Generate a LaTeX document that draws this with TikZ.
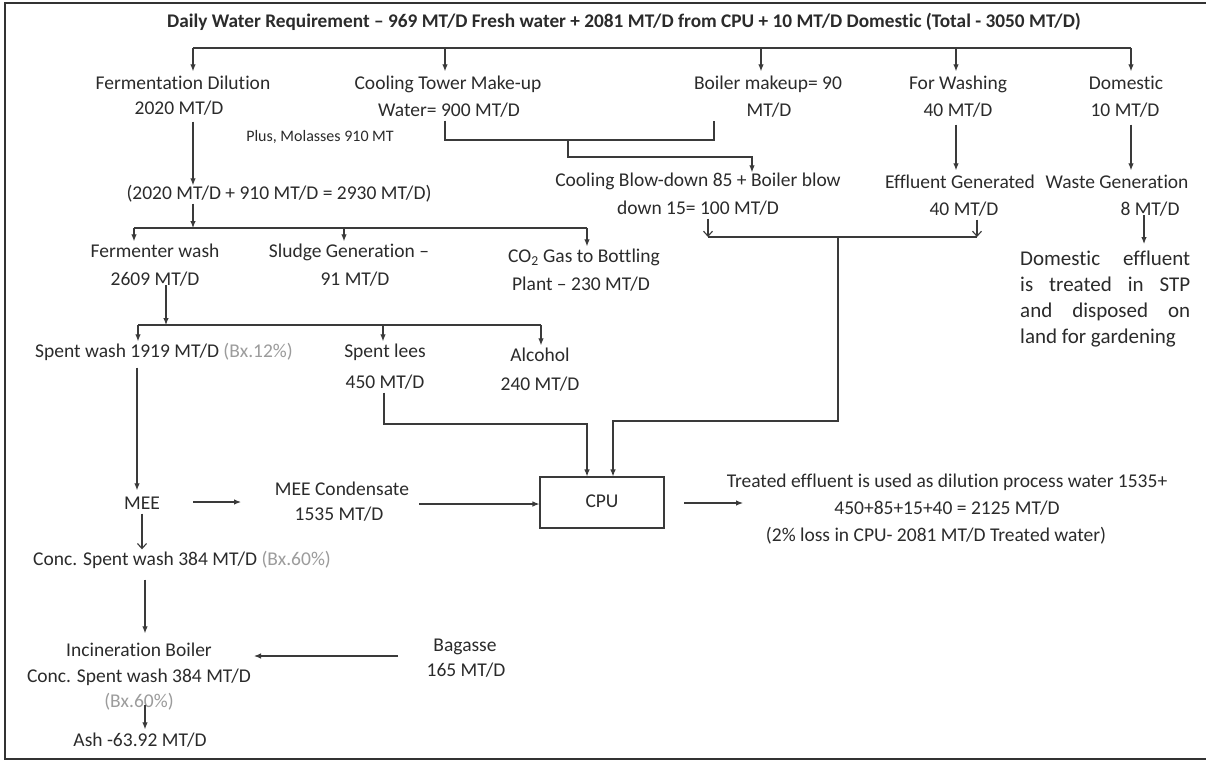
\documentclass[tikz,border=0pt]{standalone}
\usepackage{fontspec}
\setmainfont{Carlito}[Ligatures={TeX,NoCommon}]
\usetikzlibrary{arrows.meta}
\definecolor{txtc}{HTML}{2B2B2B}
\definecolor{lnc}{HTML}{3A3A3A}
\definecolor{grc}{HTML}{9C9C9C}
\newcommand\fsz{\fontsize{19.5}{23}\selectfont}
\newcommand\fsm{\fontsize{16}{20}\selectfont}
\newcommand\fsb{\fontsize{21}{26}\selectfont}
\newcommand\fst{\fontsize{19.3}{23}\selectfont\bfseries}
\begin{document}
\begin{tikzpicture}[x=1pt,y=-1pt,
  t/.style={font=\fsz,inner sep=0pt,text height=13pt,text depth=4pt,text=txtc},
  ln/.style={draw=lnc,line width=1.1pt},
  arr/.style={ln,-{Latex[length=7pt,width=5.5pt]}},
  oarr/.style={ln,-{Straight Barb[length=5pt,width=9pt]}},
  frm/.style={draw=black!80,line width=1.6pt}]
\useasboundingbox (0,0) rectangle (1206,763);
\fill[white] (0,0) rectangle (1206,763);
\coordinate (f1) at (1206,3); \coordinate (f2) at (5,3);
\coordinate (f3) at (5,759); \coordinate (f4) at (1206,759);
\draw[frm] (f1) -- (f2) -- (f3) -- (f4);

% ---------- text nodes ----------
\node[t,font=\fst] (title) at (624,23) {Daily Water Requirement – 969 MT/D Fresh water + 2081 MT/D from CPU + 10 MT/D Domestic (Total - 3050 MT/D)};
\node[t] (fd1) at (183,85) {Fermentation Dilution};
\node[t] (fd2) at (179,110) {2020 MT/D};
\node[t] (ct1) at (448,85) {Cooling Tower Make-up};
\node[t] (ct2) at (449,112) {Water= 900 MT/D};
\node[t] (bm1) at (768,85) {Boiler makeup= 90};
\node[t] (bm2) at (769,112) {MT/D};
\node[t] (fw1) at (958,85) {For Washing};
\node[t] (fw2) at (958,112) {40 MT/D};
\node[t] (dm1) at (1126,85) {Domestic};
\node[t] (dm2) at (1125,112) {10 MT/D};
\node[t,font=\fsm] (mol) at (320,137) {Plus, Molasses 910 MT};
\node[t] (sum) at (279,195) {(2020 MT/D + 910 MT/D = 2930 MT/D)};
\node[t] (cb1) at (698,182) {Cooling Blow-down 85 + Boiler blow};
\node[t] (cb2) at (698,210) {down 15= 100 MT/D};
\node[t] (eg1) at (960,184) {Effluent Generated};
\node[t] (eg2) at (964,211) {40 MT/D};
\node[t] (wg1) at (1117,184) {Waste Generation};
\node[t] (wg2) at (1150,211) {8 MT/D};
\node[font=\fsb,inner sep=0pt,align=left,anchor=north west,text=txtc] (de) at (1020,251)
  {\makebox[170pt][s]{Domestic effluent}\\ \makebox[170pt][s]{is treated in STP}\\ \makebox[170pt][s]{and disposed on}\\ land for gardening};
\node[t] (fm1) at (155,253) {Fermenter wash};
\node[t] (fm2) at (155,281) {2609 MT/D};
\node[t] (sg1) at (349,253) {Sludge Generation –};
\node[t] (sg2) at (355,281) {91 MT/D};
\node[t] (co1) at (584,258) {CO\textsubscript{2} Gas to Bottling};
\node[t] (co2) at (581,286) {Plant – 230 MT/D};
\node[t] (sw) at (164,353) {Spent wash 1919 MT/D {\color{grc}(Bx.12\%)}};
\node[t] (sl1) at (385,353) {Spent lees};
\node[t] (sl2) at (385,384) {450 MT/D};
\node[t] (al1) at (540,357) {Alcohol};
\node[t] (al2) at (540,386) {240 MT/D};
\node[t] (mee) at (142,505) {MEE};
\node[t] (mc1) at (342,491) {MEE Condensate};
\node[t] (mc2) at (339,516) {1535 MT/D};
\node[t,draw=lnc,line width=1.1pt,minimum width=124pt,minimum height=51pt] (cpu) at (602,502.5) {CPU};
\node[t] (te1) at (947,483) {Treated effluent is used as dilution process water 1535+};
\node[t] (te2) at (947,510) {450+85+15+40 = 2125 MT/D};
\node[t] (te3) at (936,537) {(2\% loss in CPU- 2081 MT/D Treated water)};
\node[t] (csw) at (182,561) {Conc. Spent wash 384 MT/D {\color{grc}(Bx.60\%)}};
\node[t] (ib1) at (139,652) {Incineration Boiler};
\node[t] (ib2) at (139,678) {Conc. Spent wash 384 MT/D};
\node[t,text=grc] (ib3) at (139,703) {(Bx.60\%)};
\node[t] (ash) at (140,742) {Ash -63.92 MT/D};
\node[t] (bg1) at (465,647) {Bagasse};
\node[t] (bg2) at (466,672) {165 MT/D};

% ---------- junction coordinates ----------
\coordinate (t0) at (193,48); \coordinate (t1) at (445,48); \coordinate (t2) at (761,48);
\coordinate (t3) at (956,48); \coordinate (t4) at (1131,48);
\coordinate (j1) at (445,140); \coordinate (j2) at (714,140);
\coordinate (j3) at (568,140); \coordinate (j4) at (568,157); \coordinate (j5) at (752,157);
\coordinate (k1) at (708,237); \coordinate (k2) at (977,237);
\coordinate (k3) at (838,237); \coordinate (k4) at (838,421); \coordinate (k5) at (613,421);
\coordinate (r0) at (193,228); \coordinate (r1) at (134,228); \coordinate (r2) at (344,228); \coordinate (r3) at (587,228);
\coordinate (q0) at (166,325); \coordinate (q1) at (138,325); \coordinate (q2) at (383,325); \coordinate (q3) at (541,325);
\coordinate (s1) at (384,424); \coordinate (s2) at (587,424);
\coordinate (m1) at (193,502); \coordinate (m2) at (241,502);
\coordinate (c1) at (419,504); \coordinate (c2) at (684,503); \coordinate (c3) at (743,503);
\coordinate (b1) at (398,656); \coordinate (b2) at (254,656);

% ---------- connectors ----------
\draw[ln] (t0) -- (t4);
\foreach \p/\n in {t0/fd1,t1/ct1,t2/bm1,t3/fw1,t4/dm1}
  \draw[arr,shorten >=5pt] (\p) -- (\p |- \n.north);
\draw[arr,shorten <=3pt,shorten >=1pt] (fd2.south -| t0) -- (sum.north -| t0);
\draw[ln] (ct2.south -| j1) -- (j1) -- (j2) -- (bm2.south -| j2);
\draw[arr,shorten >=1pt] (j3) -- (j4) -- (j5) -- (cb1.north -| j5);
\draw[arr,shorten <=4pt,shorten >=5pt] (fw2.south -| t3) -- (eg1.north -| t3);
\draw[arr,shorten <=4pt,shorten >=5pt] (dm2.south -| t4) -- (wg1.north -| t4);
\draw[arr,shorten >=7pt] ([yshift=-4pt]wg2.center -| 1144,0) -- (de.north -| 1144,0);
\draw[oarr] (cb2.south -| k1) -- (k1);
\draw[oarr] (eg2.south -| k2) -- (k2);
\draw[ln] (k1) -- (k2);
\draw[arr] (k3) -- (k4) -- (k5) -- (cpu.north -| k5);
\draw[arr] (sum.south -| r0) -- (r0);
\draw[ln] (r1) -- (r3);
\draw[arr,shorten >=3pt] (r1) -- (r1 |- fm1.north);
\draw[arr,shorten >=3pt] (r2) -- (r2 |- sg1.north);
\draw[arr,shorten >=3pt] (r3) -- (r3 |- co1.north);
\draw[arr] ([yshift=-4pt]fm2.center -| q0) -- (q0);
\draw[ln] (q1) -- (q3);
\draw[arr,shorten >=3pt] (q1) -- (q1 |- sw.north);
\draw[arr,shorten >=3pt] (q2) -- (q2 |- sl1.north);
\draw[arr,shorten >=3pt] (q3) -- (q3 |- al1.north);
\draw[arr,shorten <=6pt,shorten >=6pt] (sw.south -| 137,0) -- (mee.north -| 137,0);
\draw[arr] (sl2.south -| s1) -- (s1) -- (s2) -- (cpu.north -| s2);
\draw[arr] (m1) -- (m2);
\draw[arr] (c1) -- (cpu.west |- c1);
\draw[arr] (c2) -- (c3);
\draw[oarr,shorten >=3pt] (mee.south -| 142,0) -- (csw.north -| 142,0);
\draw[arr,shorten <=10pt,shorten >=10pt] (csw.south -| 145,0) -- (ib1.north -| 145,0);
\draw[arr] (b1) -- (b2);
\draw[arr,shorten >=4pt] ([yshift=-2pt]ib3.center -| 145,0) -- (ash.north -| 145,0);
\end{tikzpicture}
\end{document}
